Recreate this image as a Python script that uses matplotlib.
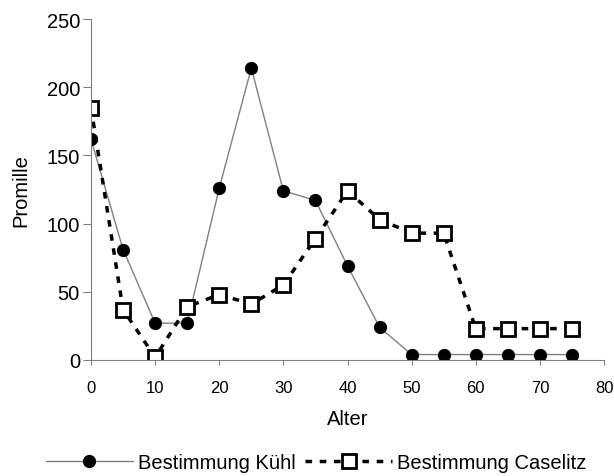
import matplotlib
matplotlib.use("Agg")
import matplotlib.pyplot as plt

plt.rcParams['font.family'] = ['Liberation Sans', 'DejaVu Sans']

alter = [0, 5, 10, 15, 20, 25, 30, 35, 40, 45, 50, 55, 60, 65, 70, 75]
kuehl = [162, 81, 27, 27, 126, 214, 124, 117, 69, 24, 4, 4, 4, 4, 4, 4]
caselitz = [185, 37, 2, 39, 48, 41, 55, 89, 124, 103, 93, 93, 23, 23, 23, 23]

fig = plt.figure(figsize=(6.14, 4.77), dpi=100)
# Achsenbereich: x 91..604 px, y 20..361 px
ax = fig.add_axes([91 / 614, 116 / 477, 513 / 614, 341 / 477])

ax.plot(alter, kuehl, color="#808080", linewidth=1, marker='o', markersize=8.5,
        markerfacecolor='black', markeredgecolor='black', label="Bestimmung Kühl")
ax.plot(alter, caselitz, color="black", linewidth=2.5, linestyle=(0, (1.9, 2.2)),
        marker='s', markersize=9.5, markerfacecolor='white', markeredgecolor='black',
        markeredgewidth=2, label="Bestimmung Caselitz")

ax.set_xlim(0, 80)
ax.set_ylim(0, 250)
ax.set_xticks(range(0, 81, 10))
ax.set_yticks(range(0, 251, 50))
ax.set_xlabel("Alter", fontsize=14.5)
ax.set_ylabel("Promille", fontsize=14.5, va='center')
ax.xaxis.set_label_coords(0.5, (361 - 410) / 341)
ax.yaxis.set_label_coords((21 - 91) / 513, 0.5)
ax.tick_params(axis='y', labelsize=14.5, color="#808080", length=6, pad=2)
ax.tick_params(axis='x', labelsize=12, color="#808080", length=3.5, pad=11)
for s in ['top', 'right']:
    ax.spines[s].set_visible(False)
for s in ['left', 'bottom']:
    ax.spines[s].set_color("#808080")

fig.legend(loc='center', bbox_to_anchor=(0.515, 13 / 477), ncol=2, frameon=False,
           fontsize=14.5, handlelength=4.3, columnspacing=0.5, handletextpad=0.25,
           borderpad=0, borderaxespad=0)

fig.savefig("out.png", dpi=100)
